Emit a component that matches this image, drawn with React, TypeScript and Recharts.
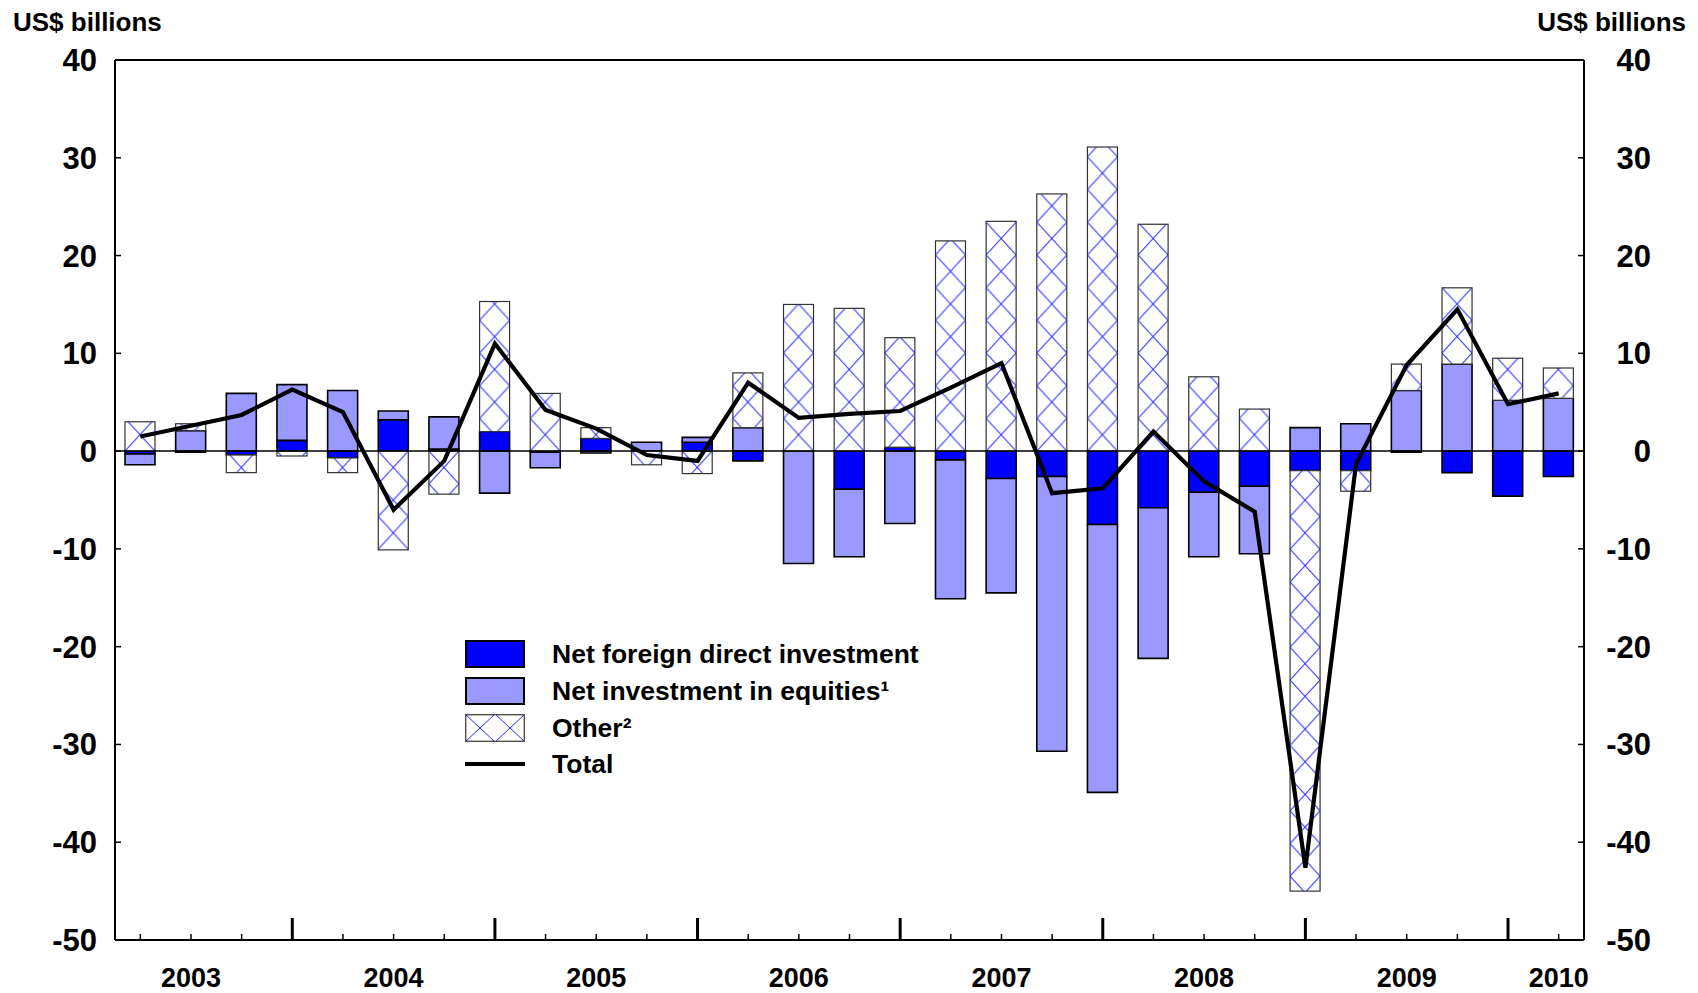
import React from 'react';
import { ComposedChart, Bar, Line, XAxis, YAxis, ReferenceLine, Legend } from 'recharts';

// ---------- Data ----------
const categories: string[] = [
  '2003Q1', '2003Q2', '2003Q3', '2003Q4',
  '2004Q1', '2004Q2', '2004Q3', '2004Q4',
  '2005Q1', '2005Q2', '2005Q3', '2005Q4',
  '2006Q1', '2006Q2', '2006Q3', '2006Q4',
  '2007Q1', '2007Q2', '2007Q3', '2007Q4',
  '2008Q1', '2008Q2', '2008Q3', '2008Q4',
  '2009Q1', '2009Q2', '2009Q3', '2009Q4',
  '2010Q1',
];

// year label shown under the second quarter of each year (and under 2010 Q1)
const tickLabels: string[] = [
  '', '2003', '', '',
  '', '2004', '', '',
  '', '2005', '', '',
  '', '2006', '', '',
  '', '2007', '', '',
  '', '2008', '', '',
  '', '2009', '', '',
  '2010',
];

const netFDI: number[] = [
  -0.3, -0.1, -0.4, 1.1,
  -0.7, 3.2, 0.2, 2.0,
  -0.1, 1.3, 0.0, 0.9,
  -1.0, 0.0, -3.9, 0.4,
  -0.9, -2.8, -2.6, -7.5,
  -5.8, -4.2, -3.6, -2.0,
  -2.0, -0.1, -2.2, -4.6,
  -2.6,
];

const netEquities: number[] = [
  -1.1, 2.1, 5.9, 5.7,
  6.2, 0.9, 3.3, -4.3,
  -1.6, -0.2, 0.9, 0.5,
  2.4, -11.5, -6.9, -7.4,
  -14.2, -11.7, -28.1, -27.4,
  -15.4, -6.6, -6.9, 2.4,
  2.8, 6.2, 8.9, 5.2,
  5.4,
];

const other: number[] = [
  3.0, 0.7, -1.8, -0.5,
  -1.5, -10.1, -4.4, 13.3,
  5.9, 1.1, -1.4, -2.3,
  5.6, 15.0, 14.6, 11.2,
  21.5, 23.5, 26.3, 31.1,
  23.2, 7.6, 4.3, -43.0,
  -2.1, 2.7, 7.8, 4.3,
  3.1,
];

const total: number[] = [
  1.5, 2.6, 3.7, 6.3,
  4.0, -6.0, -1.0, 11.0,
  4.2, 2.3, -0.4, -1.0,
  7.0, 3.4, 3.8, 4.1,
  6.5, 9.0, -4.3, -3.8,
  2.0, -3.1, -6.2, -42.6,
  -1.3, 8.8, 14.5, 4.8,
  5.9,
];

const yTicks: number[] = [-50, -40, -30, -20, -10, 0, 10, 20, 30, 40];

const data = categories.map((c, i) => ({
  q: c,
  fdi: netFDI[i],
  eq: netEquities[i],
  other: other[i],
  total: total[i],
}));

// ---------- Layout / style ----------
const W = 1698;
const H = 993;
const PLOT_LEFT = 115;
const PLOT_RIGHT = 1584;
const PLOT_TOP = 60;
const PLOT_BOTTOM = 940;
const Y_AXIS_W = 60;
const X_AXIS_H = 40;
const Y_MIN = -50;
const Y_MAX = 40;
const ZERO_Y = PLOT_TOP + (Y_MAX / (Y_MAX - Y_MIN)) * (PLOT_BOTTOM - PLOT_TOP);
const HATCH_H = 32.7;

const FONT = '"Liberation Sans", Arial, Helvetica, sans-serif';
const FDI_COLOR = '#0000FF';
const EQ_COLOR = '#9999FF';
const HATCH_COLOR = '#2a2aff';

const LeftTick = (props: any) => {
  const { x, y, payload } = props;
  return (
    <g>
      <line x1={x} x2={x + 6} y1={y} y2={y} stroke="#000" strokeWidth={1.5} />
      <text x={x - 18} y={y} dy={11} textAnchor="end" fontSize={31} fontWeight="bold" fontFamily={FONT} fill="#000">
        {payload.value}
      </text>
    </g>
  );
};

const RightTick = (props: any) => {
  const { x, y, payload } = props;
  return (
    <g>
      <line x1={x} x2={x - 6} y1={y} y2={y} stroke="#000" strokeWidth={1.5} />
      <text x={x + 67} y={y} dy={11} textAnchor="end" fontSize={31} fontWeight="bold" fontFamily={FONT} fill="#000">
        {payload.value}
      </text>
    </g>
  );
};

const BottomTick = (props: any) => {
  const { x, y, index } = props;
  const major = index % 4 === 3;
  const label = tickLabels[index] || '';
  return (
    <g>
      <line
        x1={x}
        x2={x}
        y1={y}
        y2={y - (major ? 22 : 6)}
        stroke="#000"
        strokeWidth={major ? 3 : 1.5}
      />
      {label ? (
        <text x={x} y={y + 47} textAnchor="middle" fontSize={27} fontWeight="bold" fontFamily={FONT} fill="#000">
          {label}
        </text>
      ) : null}
    </g>
  );
};

const HatchBar = (props: any) => {
  const { x, y, width, height, index } = props;
  if (!height || Math.abs(height) < 0.01 || !width) return null;
  const ry = height < 0 ? y + height : y;
  const rh = Math.abs(height);
  const id = `hatch-${index}`;
  return (
    <g>
      <defs>
        <pattern id={id} patternUnits="userSpaceOnUse" x={x} y={ZERO_Y} width={width} height={HATCH_H}>
          <rect x={0} y={0} width={width} height={HATCH_H} fill="#fff" />
          <line x1={0} y1={0} x2={width} y2={HATCH_H} stroke={HATCH_COLOR} strokeWidth={1} />
          <line x1={width} y1={0} x2={0} y2={HATCH_H} stroke={HATCH_COLOR} strokeWidth={1} />
        </pattern>
      </defs>
      <rect x={x} y={ry} width={width} height={rh} fill={`url(#${id})`} stroke="#333" strokeWidth={1.2} />
    </g>
  );
};

const legendItems = [
  { key: 'fdi', label: 'Net foreign direct investment', kind: 'fdi' },
  { key: 'eq', label: 'Net investment in equities\u00B9', kind: 'eq' },
  { key: 'other', label: 'Other\u00B2', kind: 'other' },
  { key: 'total', label: 'Total', kind: 'line' },
];

const Swatch = ({ kind }: { kind: string }) => {
  if (kind === 'line') {
    return (
      <svg width={60} height={28}>
        <line x1={0} x2={60} y1={14} y2={14} stroke="#000" strokeWidth={4} />
      </svg>
    );
  }
  if (kind === 'other') {
    return (
      <svg width={60} height={28}>
        <defs>
          <pattern id="legend-hatch" patternUnits="userSpaceOnUse" x={0} y={0} width={30} height={28}>
            <rect width={30} height={28} fill="#fff" />
            <line x1={0} y1={0} x2={30} y2={28} stroke={HATCH_COLOR} strokeWidth={1} />
            <line x1={30} y1={0} x2={0} y2={28} stroke={HATCH_COLOR} strokeWidth={1} />
          </pattern>
        </defs>
        <rect x={0.75} y={0.75} width={58.5} height={26.5} fill="url(#legend-hatch)" stroke="#333" strokeWidth={1.2} />
      </svg>
    );
  }
  return (
    <svg width={60} height={28}>
      <rect
        x={1}
        y={1}
        width={58}
        height={26}
        fill={kind === 'fdi' ? FDI_COLOR : EQ_COLOR}
        stroke="#000"
        strokeWidth={2}
      />
    </svg>
  );
};

const renderLegend = () => (
  <div style={{ fontFamily: FONT, fontWeight: 'bold', fontSize: 26.5, color: '#000' }}>
    {legendItems.map((it) => (
      <div key={it.key} style={{ display: 'flex', alignItems: 'center', height: 36.7 }}>
        <Swatch kind={it.kind} />
        <span style={{ marginLeft: 27, lineHeight: '28px', whiteSpace: 'nowrap' }}>{it.label}</span>
      </div>
    ))}
  </div>
);

export default function App() {
  return (
    <div style={{ position: 'absolute', left: 0, top: 0, width: W, height: H, background: '#fff' }}>
      <ComposedChart
        width={W}
        height={H}
        data={data}
        stackOffset="sign"
        margin={{
          top: PLOT_TOP,
          left: PLOT_LEFT - Y_AXIS_W,
          right: W - PLOT_RIGHT - Y_AXIS_W,
          bottom: H - PLOT_BOTTOM - X_AXIS_H,
        }}
        style={{ fontFamily: FONT }}
      >
        <XAxis
          dataKey="q"
          xAxisId="x"
          interval={0}
          height={X_AXIS_H}
          tickSize={0}
          tickMargin={0}
          tickLine={false}
          axisLine={{ stroke: '#000', strokeWidth: 2 }}
          tick={<BottomTick />}
        />
        <YAxis
          yAxisId="left"
          orientation="left"
          width={Y_AXIS_W}
          domain={[Y_MIN, Y_MAX]}
          ticks={yTicks}
          interval={0}
          allowDataOverflow
          tickSize={0}
          tickMargin={0}
          tickLine={false}
          axisLine={{ stroke: '#000', strokeWidth: 2 }}
          tick={<LeftTick />}
        />
        <YAxis
          yAxisId="right"
          orientation="right"
          width={Y_AXIS_W}
          domain={[Y_MIN, Y_MAX]}
          ticks={yTicks}
          interval={0}
          allowDataOverflow
          tickSize={0}
          tickMargin={0}
          tickLine={false}
          axisLine={{ stroke: '#000', strokeWidth: 2 }}
          tick={<RightTick />}
        />
        <Bar
          xAxisId="x"
          yAxisId="left"
          dataKey="fdi"
          name="Net foreign direct investment"
          stackId="s"
          barSize={30}
          fill={FDI_COLOR}
          stroke="#000"
          strokeWidth={1.6}
          isAnimationActive={false}
        />
        <Bar
          xAxisId="x"
          yAxisId="left"
          dataKey="eq"
          name="Net investment in equities"
          stackId="s"
          barSize={30}
          fill={EQ_COLOR}
          stroke="#000"
          strokeWidth={1.6}
          isAnimationActive={false}
        />
        <Bar
          xAxisId="x"
          yAxisId="left"
          dataKey="other"
          name="Other"
          stackId="s"
          barSize={30}
          fill="#fff"
          shape={(p: any) => <HatchBar {...p} />}
          isAnimationActive={false}
        />
        <ReferenceLine xAxisId="x" yAxisId="left" y={0} stroke="#000" strokeWidth={1.5} />
        <ReferenceLine xAxisId="x" yAxisId="left" y={Y_MAX} stroke="#000" strokeWidth={2} />
        <Line
          xAxisId="x"
          yAxisId="left"
          type="linear"
          dataKey="total"
          name="Total"
          stroke="#000"
          strokeWidth={4.2}
          dot={false}
          activeDot={false}
          isAnimationActive={false}
        />
        <Legend
          layout="vertical"
          align="center"
          verticalAlign="middle"
          content={renderLegend}
          wrapperStyle={{ left: 465, top: 636, width: 480, height: 150 }}
        />
      </ComposedChart>
      <svg
        width={W}
        height={50}
        style={{ position: 'absolute', left: 0, top: 0, pointerEvents: 'none' }}
      >
        <text x={13} y={31} fontSize={26} fontWeight="bold" fontFamily={FONT} fill="#000">
          US$ billions
        </text>
        <text x={1686} y={31} textAnchor="end" fontSize={26} fontWeight="bold" fontFamily={FONT} fill="#000">
          US$ billions
        </text>
      </svg>
    </div>
  );
}
